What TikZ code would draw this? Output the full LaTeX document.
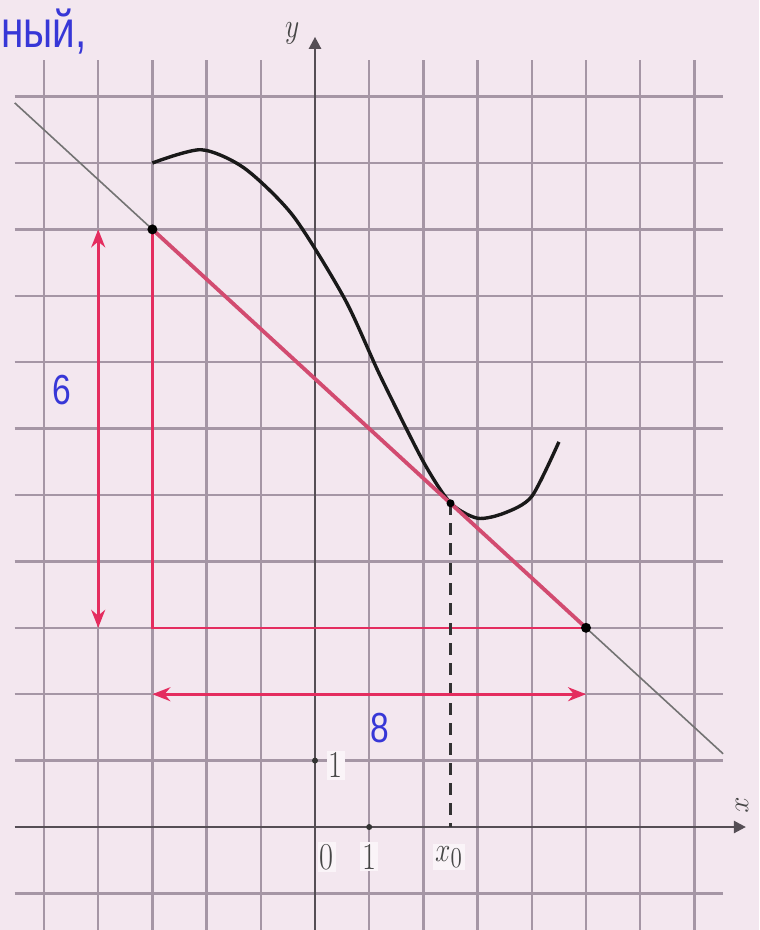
\documentclass[tikz,border=0pt]{standalone}
\usepackage{fontspec}
\usepackage{graphicx}
\newfontfamily\sansf{Liberation Sans}
\usetikzlibrary{arrows.meta}
\definecolor{bg}{RGB}{243,231,239}
\definecolor{gridc}{RGB}{165,150,165}
\definecolor{redl}{RGB}{228,45,95}
\definecolor{hyp}{RGB}{210,75,112}
\definecolor{bluet}{RGB}{55,55,215}
\definecolor{axisc}{RGB}{85,78,85}
\definecolor{labc}{RGB}{70,70,70}
\newcommand{\narrowtxt}[1]{\scalebox{0.8}[1]{#1}}
\begin{document}
\begin{tikzpicture}[x=27.1pt,y=33.2pt,
  gridl/.style={draw=gridc,line width=1.2pt},
  axisl/.style={draw=axisc,line width=1.2pt},
  tang/.style={draw=black!55,line width=0.8pt},
  redline/.style={draw=redl,line width=1.3pt},
  hypline/.style={draw=hyp,line width=1.9pt},
  dimarrow/.style={draw=redl,line width=1.3pt,{Stealth[length=9pt,width=7pt]}-{Stealth[length=9pt,width=7pt]}},
  curvel/.style={draw=black!90,line width=1.7pt,line join=round},
  dotp/.style={circle,fill=black,inner sep=0pt,minimum size=5pt},
  tickp/.style={circle,fill=black!80,inner sep=0pt,minimum size=3pt},
  bignum/.style={text=bluet,font=\sansf\fontsize{21}{21}\selectfont},
  axlab/.style={text=labc,font=\fontsize{19}{19}\selectfont,fill=white!55!bg,inner sep=1pt}]
\fill[bg] (-5.812,-1.551) rectangle (8.192,12.455);
\useasboundingbox (-5.812,-1.551) rectangle (8.192,12.455);
% grid
\foreach \i in {-5,...,-1,1,2,...,7} \draw[gridl] (\i,-1.6) -- (\i,11.55);
\foreach \j in {-1,1,2,...,11} \draw[gridl] (-5.54,\j) -- (7.53,\j);
% axes
\coordinate (yb) at (0,-1.6);
\coordinate (yt) at (0,11.9);
\coordinate (xl) at (-5.54,0);
\coordinate (xr) at (7.95,0);
\draw[axisl,-{Triangle[length=6pt,width=6pt]}] (yb) -- (yt);
\draw[axisl,-{Triangle[length=6pt,width=6pt]}] (xl) -- (xr);
\node[text=labc,font=\fontsize{18}{18}\selectfont] (ylab) at (-0.42,11.95) {\narrowtxt{$y$}};
\node[text=labc,font=\fontsize{15}{15}\selectfont,rotate=-90,inner sep=0pt] (xlab) at (7.88,0.33) {$x$};
% tangent line
\coordinate (L1) at (-5.54,10.905);
\coordinate (L2) at (7.53,1.1025);
\draw[tang] (L1) -- (L2);
% key points
\coordinate (A) at (-3,9);
\coordinate (B) at (5,3);
\coordinate (C) at (-3,3);
\coordinate (T) at (2.5,4.875);
\coordinate (T0) at (2.5,0);
% curve
\draw[curvel] plot[smooth,tension=0.45] coordinates {(-3,10) (-2.1,10.2) (-1.3,9.92) (-0.4,9.2) (0.55,7.95) (1.2,6.8) (2,5.5) (2.5,4.88) (3,4.65) (3.5,4.73) (4,4.98) (4.5,5.8)};
% red triangle
\draw[redline] (A) -- (C) -- (B);
\draw[hypline] (A) -- (B);
% dashed
\draw[draw=black!80,line width=1.6pt,dash pattern=on 6pt off 4pt] (T) -- (T0);
% dimension arrows
\coordinate (V1) at (-4,9);
\coordinate (V2) at (-4,3);
\coordinate (H1) at (-3,2);
\coordinate (H2) at (5,2);
\draw[dimarrow] (V1) -- (V2);
\draw[dimarrow] (H1) -- (H2);
\node[bignum] (six) at (-4.67,6.58) {\narrowtxt{6}};
\node[bignum] (eight) at (1.2,1.49) {\narrowtxt{8}};
% dots
\node[dotp] (dA) at (A) {};
\node[dotp] (dB) at (B) {};
\node[dotp,minimum size=4pt] (dT) at (T) {};
\node[tickp] (t1) at (0,1) {};
\node[tickp] (t2) at (1,0) {};
% axis labels
\node[axlab] (one y) at (0.38,0.93) {\narrowtxt{1}};
\node[axlab] (zero) at (0.22,-0.45) {\narrowtxt{0}};
\node[axlab] (one x) at (1.0,-0.45) {\narrowtxt{1}};
\node[axlab] (xzero) at (2.47,-0.45) {\narrowtxt{$x_0$}};
% top text
\node[text=bluet,font=\sansf\fontsize{26}{26}\selectfont,anchor=west,inner sep=0pt] (word) at (-5.8,11.98) {\scalebox{0.78}[1]{ный,}};
\end{tikzpicture}
\end{document}
